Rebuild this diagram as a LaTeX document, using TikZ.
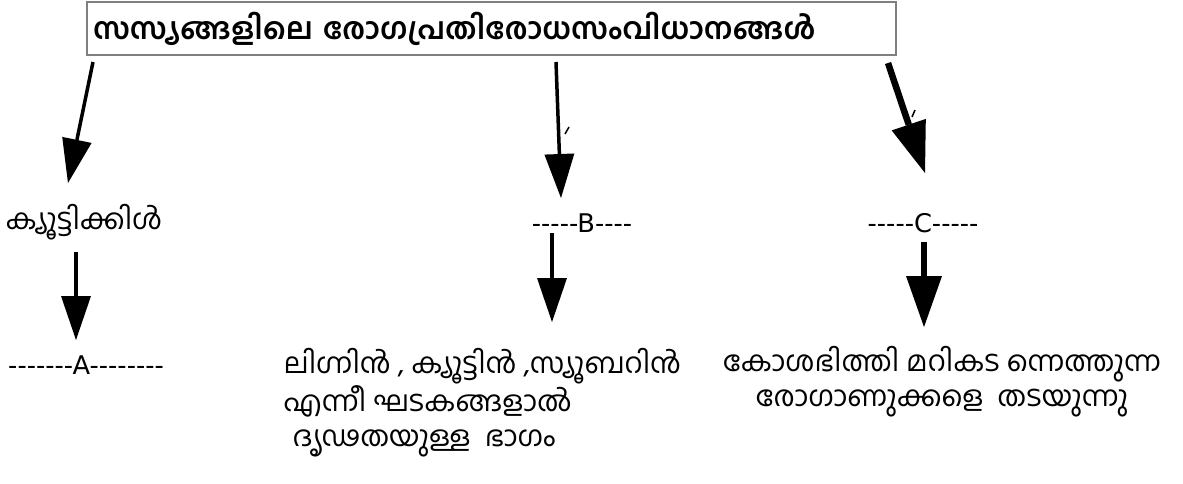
\documentclass[tikz,border=0pt]{standalone}
\usepackage{fontspec}
\setmainfont{DejaVu Sans}[Ligatures=TeXOff]
\newfontfamily\mlfont[Script=Malayalam]{Hind Kochi}
\usepackage{xcolor}
\usepackage{tikz}
\usetikzlibrary{arrows.meta}
\definecolor{ink}{HTML}{000000}
\definecolor{frame}{HTML}{7F7F7F}
\tikzset{
  box/.style={draw=frame, line width=1.3pt, inner xsep=6pt, text width=797pt, align=left, minimum height=53pt, font=\mlfont\bfseries\fontsize{30}{34}\selectfont},
  arr/.style={draw=ink, line width=3.5pt, -{Triangle[length=44pt,width=30pt,line width=0pt]}},
  arrw/.style={draw=ink, line width=6.5pt, -{Triangle[length=51pt,width=36pt,line width=0pt]}},
  mal/.style={font=\mlfont\fontsize{28.5}{35}\selectfont},
  gap/.style={font=\fontsize{25.7}{30}\selectfont},
  tick/.style={draw=ink, line width=1.5pt},
  every node/.style={text=ink}
}
\begin{document}
\begin{tikzpicture}[x=1pt,y=-1pt]
  \useasboundingbox (0,0) rectangle (1183,483);

  \node[box] (T) at (491.5,28.5) {സസ്യങ്ങളിലെ രോഗപ്രതിരോധസംവിധാനങ്ങൾ};

  \node[mal] (K) at (84,222) {ക്യൂട്ടിക്കിൾ};
  \node[gap] (B) at (582,223) {-----B----};
  \node[gap] (C) at (923,223) {-----C-----};
  \node[gap] (A) at (86,365) {-------A--------};

  \node[mal, align=left, anchor=north west] (DB) at (280,345) {ലിഗ്നിൻ , ക്യൂട്ടിൻ ,സ്യൂബറിൻ\\എന്നീ ഘടകങ്ങളാൽ\\\hspace*{9pt}ദൃഢതയുള്ള\ \ ഭാഗം};
  \node[mal, align=center] (DC) at (942,382) {കോശഭിത്തി മറികട ന്നെത്തുന്ന\\രോഗാണുക്കളെ\ \ തടയുന്നു};

  % arrow ends
  \coordinate (T1) at (93,62);   \coordinate (K1) at (68,183);
  \coordinate (T2) at (556,62);  \coordinate (B1) at (561,198);
  \coordinate (T3) at (888,63);  \coordinate (C1) at (925,173);
  \coordinate (K2) at (76,252);  \coordinate (A1) at (76,340);
  \coordinate (B2) at (552,233); \coordinate (DB1) at (552,322);
  \coordinate (C2) at (924,242); \coordinate (DC1) at (924,327);

  \draw[arr] (T1) -- (K1);
  \draw[arr] (T2) -- (B1);
  \draw[arrw] (T3) -- (C1);
  \draw[arr] (K2) -- (A1);
  \draw[arr] (B2) -- (DB1);
  \draw[arrw, line width=6pt] (C2) -- (DC1);

  % stray marks
  \draw[tick] (565,134) -- (569,127);
  \draw[tick] (912,117) -- (915,110);
\end{tikzpicture}
\end{document}
